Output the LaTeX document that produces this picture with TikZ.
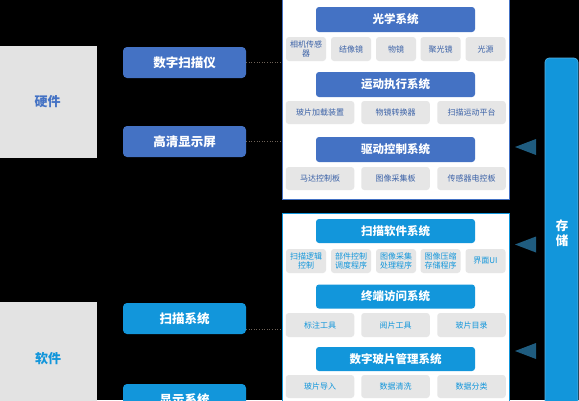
\documentclass[tikz,border=0pt]{standalone}
\usepackage{fontspec}
\setmainfont{Noto Sans CJK SC}
\usetikzlibrary{positioning}
\definecolor{hwblue}{HTML}{4472C4}
\definecolor{swblue}{HTML}{1296DB}
\definecolor{boxgray}{HTML}{E6E6E6}
\definecolor{leftgray}{HTML}{E3E3E3}
\definecolor{tricol}{HTML}{1F5C7F}
\definecolor{dotcol}{HTML}{6E6258}
\tikzset{
  leftbox/.style={draw=none,fill=leftgray,inner sep=0pt,font=\bfseries\fontsize{13}{15}\selectfont},
  btn/.style={rounded corners=4pt,inner sep=0pt,minimum width=123pt,minimum height=31pt,text=white,font=\bfseries\fontsize{12.5}{14}\selectfont},
  hdr/.style={rounded corners=3pt,inner sep=0pt,minimum width=159pt,minimum height=25pt,text=white,font=\bfseries\fontsize{11.5}{13}\selectfont},
  sbox/.style={fill=boxgray,rounded corners=3pt,inner sep=0pt,minimum height=24pt,align=center,font=\fontsize{8}{9}\selectfont},
  sb5/.style={sbox,minimum width=40pt},
  sb3/.style={sbox,minimum width=68.5pt},
  frm/.style={fill=white,line width=1pt,inner sep=0pt},
  dotline/.style={dotcol,dotted,line width=0.6pt},
  tri/.style={fill=tricol,draw=none}
}
\begin{document}
\begin{tikzpicture}[x=1pt,y=-1pt]
\useasboundingbox (0,0) rectangle (579,400);
\fill[black] (0,0) rectangle (579,400);
\clip (0,0) rectangle (579,400);

% left category boxes
\node[leftbox,text=hwblue,minimum width=99pt,minimum height=112pt] (hw) at (47.5,102) {硬件};
\node[leftbox,text=swblue,minimum width=99pt,minimum height=118pt] (sw) at (47.5,361) {};
\node[text=swblue,font=\bfseries\fontsize{13}{15}\selectfont] (swlabel) at (48,359) {软件};

% buttons
\node[btn,fill=hwblue] (scanner) at (184.5,62.5) {数字扫描仪};
\node[btn,fill=hwblue] (screen) at (184.5,141.5) {高清显示屏};
\node[btn,fill=swblue] (scansys) at (184.5,318.5) {扫描系统};
\node[btn,fill=swblue] (dispsys) at (184.5,399.5) {显示系统};

% frames
\node[frm,draw=hwblue,minimum width=227pt,minimum height=203pt] (hwframe) at (395.5,97.5) {};
\node[frm,draw=swblue,minimum width=227pt,minimum height=200pt] (swframe) at (395.5,313) {};

% storage bar
\node[fill=swblue,draw=swblue!70!white,line width=0.6pt,rounded corners=4pt,minimum width=33pt,minimum height=360pt,inner sep=0pt] (store) at (561.5,238) {};
\node[text=white,align=center,font=\bfseries\fontsize{12.5}{15}\selectfont] (storelabel) at (562,233.5) {存\\储};

% hardware frame contents
\node[hdr,fill=hwblue] (optics) at (395.5,19.5) {光学系统};
\begin{scope}[every node/.append style={text=hwblue!85!black}]
\node[sb5] (h11) at (306,49) {相机传感\\器};
\node[sb5] (h12) at (351,49) {结像镜};
\node[sb5] (h13) at (396,49) {物镜};
\node[sb5] (h14) at (440.5,49) {聚光镜};
\node[sb5] (h15) at (485.5,49) {光源};
\end{scope}
\node[hdr,fill=hwblue] (motion) at (395.5,84.5) {运动执行系统};
\begin{scope}[every node/.append style={text=hwblue!85!black}]
\node[sb3,minimum height=23pt] (h21) at (320,112.5) {玻片加载装置};
\node[sb3,minimum height=23pt] (h22) at (395.5,112.5) {物镜转换器};
\node[sb3,minimum height=23pt] (h23) at (471.5,112.5) {扫描运动平台};
\end{scope}
\node[hdr,fill=hwblue] (drive) at (395.5,149.5) {驱动控制系统};
\begin{scope}[every node/.append style={text=hwblue!85!black}]
\node[sb3,minimum height=23pt] (h31) at (320,178.5) {马达控制板};
\node[sb3,minimum height=23pt] (h32) at (395.5,178.5) {图像采集板};
\node[sb3,minimum height=23pt] (h33) at (471.5,178.5) {传感器电控板};
\end{scope}

% software frame contents
\node[hdr,fill=swblue,minimum height=24pt] (scansw) at (395.5,231) {扫描软件系统};
\begin{scope}[every node/.append style={text=swblue}]
\node[sb5] (s11) at (306,261) {扫描逻辑\\控制};
\node[sb5] (s12) at (351,261) {部件控制\\调度程序};
\node[sb5] (s13) at (396,261) {图像采集\\处理程序};
\node[sb5] (s14) at (440.5,261) {图像压缩\\存储程序};
\node[sb5] (s15) at (485.5,261) {界面UI};
\end{scope}
\node[hdr,fill=swblue,minimum height=24pt] (term) at (395.5,296.5) {终端访问系统};
\begin{scope}[every node/.append style={text=swblue}]
\node[sb3] (s21) at (320,325) {标注工具};
\node[sb3] (s22) at (395.5,325) {阅片工具};
\node[sb3] (s23) at (471.5,325) {玻片目录};
\end{scope}
\node[hdr,fill=swblue,minimum height=24pt] (slidemgmt) at (395.5,359) {数字玻片管理系统};
\begin{scope}[every node/.append style={text=swblue}]
\node[sb3,minimum height=23pt] (s31) at (320,386.5) {玻片导入};
\node[sb3,minimum height=23pt] (s32) at (395.5,386.5) {数据清洗};
\node[sb3,minimum height=23pt] (s33) at (471.5,386.5) {数据分类};
\end{scope}

% dotted connectors
\draw[dotline] (scanner.east) -- (scanner.east -| hwframe.west);
\draw[dotline] (screen.east) -- (screen.east -| hwframe.west);
\coordinate (c3) at (246,329);
\draw[dotline] (c3) -- (c3 -| swframe.west);

% triangles
\fill[tri] (515,147) -- (536,139) -- (536,155) -- cycle;
\fill[tri] (515,244.5) -- (536,236.5) -- (536,252.5) -- cycle;
\fill[tri] (515,351) -- (536,343) -- (536,359) -- cycle;
\end{tikzpicture}
\end{document}
